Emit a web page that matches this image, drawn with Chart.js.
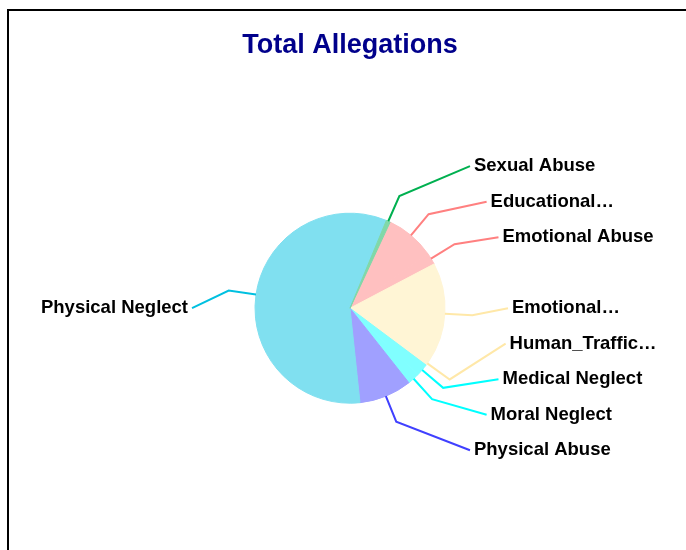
<!DOCTYPE html>
<html>
<head>
<meta charset="utf-8">
<script src="https://cdn.jsdelivr.net/npm/chart.js@4/dist/chart.umd.min.js"></script>
<style>
 html, body { margin:0; padding:0; background:#fff; }
 canvas { display:block; }
</style>
</head>
<body>
<canvas id="allegations" width="686" height="550"></canvas>
<script>
// Data
var categories = ["Educational Neglect","Emotional Abuse","Emotional Neglect","Human_Trafficking","Medical Neglect","Moral Neglect","Physical Abuse","Physical Neglect","Sexual Abuse"];
var counts = [12,3,25,1,3,3,13,84,1];

// Colours: leader line and slice fill
var lineColors = ["#ff8080","#ff8080","#ffe8a8","#ffe8a8","#00ffff","#00ffff","#4040ff","#00c0e0","#00b050"];
var fillColors = ["#ffc0c0","#ffc0c0","#fff5d5","#fff5d5","#80ffff","#80ffff","#a0a0ff","#80e0f0","#80d8a8"];

var labelFont = "bold 18.5px Arial, 'Liberation Sans', sans-serif";
var slotGap = 35.5;      // vertical spacing of label slots
var slotCount = 9;
var textLimit = 660;     // right edge for label text

// Cut a label to fit, first by words then by characters
function fitText(ctx, text, maxW){
 if (ctx.measureText(text).width <= maxW) return text;
 var words = text.split(" ");
 while (words.length > 1){
  words.pop();
  var t = words.join(" ") + "\u2026";
  if (ctx.measureText(t).width <= maxW) return t;
 }
 var s = words[0];
 while (s.length > 1){
  s = s.slice(0,-1);
  if (ctx.measureText(s + "\u2026").width <= maxW) return s + "\u2026";
 }
 return s + "\u2026";
}

// Put labels (sorted by wanted slot) into free slots, keeping order
function assignSlots(items){
 var n = items.length, m = slotCount, half = (m-1)/2;
 if (!n) return;
 var INF = 1e9, cost = [], pick = [];
 for (var i=0;i<=n;i++){ cost.push([]); pick.push([]); for (var j=0;j<=m;j++){ cost[i].push(i===0?0:INF); pick[i].push(false); } }
 for (i=1;i<=n;i++){
  for (j=1;j<=m;j++){
   var skip = cost[i][j-1];
   var d = items[i-1].want - (j-1-half);
   var use = cost[i-1][j-1] + d*d;
   if (use < skip){ cost[i][j] = use; pick[i][j] = true; } else { cost[i][j] = skip; }
  }
 }
 i = n; j = m;
 while (i > 0){
  if (pick[i][j]){ items[i-1].slot = j-1-half; i--; j--; } else { j--; }
 }
}

var callouts = {
 id: "callouts",
 beforeDraw: function(chart){
  var ctx = chart.ctx;
  ctx.save();
  ctx.fillStyle = "#fff";
  ctx.fillRect(0,0,chart.width,chart.height);
  ctx.strokeStyle = "#000";
  ctx.lineWidth = 2;
  ctx.strokeRect(8,10,720,600);
  ctx.restore();
 },
 afterDatasetsDraw: function(chart){
  var ctx = chart.ctx;
  var arcs = chart.getDatasetMeta(0).data;
  var left = [], right = [];
  arcs.forEach(function(arc, i){
   var p = arc.getProps(["x","y","startAngle","endAngle","outerRadius"], true);
   var a = (p.startAngle + p.endAngle)/2;
   var r = p.outerRadius;
   var it = {
    i: i, cx: p.x, cy: p.y, r: r,
    x0: p.x + Math.cos(a)*r, y0: p.y + Math.sin(a)*r,
    x1: p.x + Math.cos(a)*r*1.29, y1: p.y + Math.sin(a)*r*1.29
   };
   it.want = (it.y1 - p.y)/slotGap;
   (Math.cos(a) >= 0 ? right : left).push(it);
  });
  [right, left].forEach(function(side, s){
   side.sort(function(a,b){ return a.want - b.want; });
   assignSlots(side);
   side.forEach(function(it){
    var dy = it.slot*slotGap;
    var dx = it.r*1.663 - it.r*0.4*Math.pow(it.slot/4, 2);
    var x2 = s === 0 ? it.cx + dx : it.cx - dx;
    var y2 = it.cy + dy;
    ctx.save();
    ctx.strokeStyle = lineColors[it.i];
    ctx.lineWidth = 2;
    ctx.lineJoin = "miter";
    ctx.beginPath();
    ctx.moveTo(it.x0, it.y0);
    ctx.lineTo(it.x1, it.y1);
    ctx.lineTo(x2, y2);
    ctx.stroke();
    ctx.font = labelFont;
    ctx.fillStyle = "#000";
    ctx.textBaseline = "middle";
    if (s === 0){
     ctx.textAlign = "left";
     ctx.fillText(fitText(ctx, categories[it.i], textLimit - x2 - 4), x2 + 4, y2);
    } else {
     ctx.textAlign = "right";
     ctx.fillText(fitText(ctx, categories[it.i], x2 - 20), x2 - 4, y2);
    }
    ctx.restore();
   });
  });
 }
};

new Chart(document.getElementById("allegations"), {
 type: "pie",
 data: {
  labels: categories,
  datasets: [{
   data: counts,
   backgroundColor: fillColors,
   borderColor: fillColors,
   borderWidth: 1,
   radius: 95
  }]
 },
 options: {
  responsive: false,
  animation: false,
  devicePixelRatio: 1,
  rotation: 25,
  layout: { padding: { left: 14, right: 0, top: 10, bottom: 5 } },
  plugins: {
   legend: { display: false },
   tooltip: { enabled: false },
   title: {
    display: true,
    text: "Total Allegations",
    color: "#00008b",
    font: { family: "Arial, 'Liberation Sans', sans-serif", size: 27, weight: "bold", lineHeight: 1.2 },
    padding: { top: 19, bottom: 10 }
   }
  }
 },
 plugins: [callouts]
});
</script>
</body>
</html>
